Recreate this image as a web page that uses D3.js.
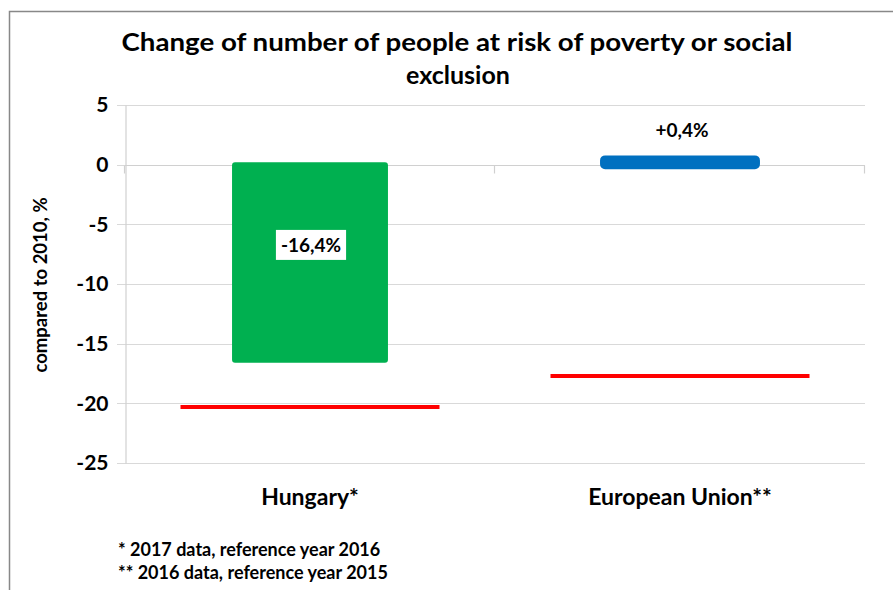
<!DOCTYPE html>
<html><head><meta charset="utf-8">
<script src="https://cdn.jsdelivr.net/npm/d3@7"></script>
<style>
html,body{margin:0;padding:0;background:#fff;}
svg{display:block;}
text{font-family:Lato,"Open Sans",sans-serif;font-weight:bold;fill:#000;}
</style></head>
<body>
<script>
const categories = ["Hungary*", "European Union**"];
const changeValues = [-16.4, 0.4];
const targetValues = [-20.3, -17.7];
const valueLabels = ["-16,4%", "+0,4%"];
const barColors = ["#00B050", "#0070C0"];
const yTicks = [5, 0, -5, -10, -15, -20, -25];
const titleLines = ["Change of number of people at risk of poverty or social", "exclusion"];
const yTitle = "compared to 2010, %";
const footnotes = ["* 2017 data, reference year 2016", "** 2016 data, reference year 2015"];

const W = 893, H = 590;
const svg = d3.select("body").append("svg").attr("width", W).attr("height", H);

// outer chart border
svg.append("path").attr("d", `M9.5,${H} V11.5 H${W}`).attr("fill","none").attr("stroke","#888").attr("stroke-width",1.5);

const plot = {left:125, right:865, top:105, bottom:463};
const y = d3.scaleLinear().domain([-25, 5]).range([plot.bottom, plot.top]);
const x = d3.scaleBand().domain(categories).range([plot.left, plot.right]).padding(0);
const barFrac = 0.416, lineFrac = 0.7;

// gridlines
svg.append("g").selectAll("line").data(yTicks).join("line")
  .attr("x1", plot.left - 8).attr("x2", plot.right)
  .attr("y1", d => Math.round(y(d)) + 0.5).attr("y2", d => Math.round(y(d)) + 0.5)
  .attr("stroke", "#d9d9d9").attr("stroke-width", 1.2);

// y axis
const yAxis = svg.append("g").attr("transform", `translate(${plot.left + 0.5},0)`)
  .call(d3.axisLeft(y).tickValues(yTicks).tickSize(0).tickPadding(17).tickFormat(d => String(d)));
yAxis.select(".domain").attr("stroke", "#d0d0d0").attr("stroke-width", 1.2);
yAxis.selectAll("text").attr("font-size", 21).attr("font-family", "Lato, sans-serif").attr("font-weight", "bold").attr("fill","#000");

// x axis at 0
const x0 = Math.round(y(0)) + 0.5;
svg.append("line").attr("x1", plot.left).attr("x2", plot.right).attr("y1", x0).attr("y2", x0)
  .attr("stroke", "#d0d0d0").attr("stroke-width", 1.2);
const tickXs = [plot.left, ...categories.map(c => x(c) + x.bandwidth())];
svg.append("g").selectAll("line").data(tickXs).join("line")
  .attr("x1", d => d - 0.5).attr("x2", d => d - 0.5).attr("y1", x0).attr("y2", x0 + 8)
  .attr("stroke", "#d0d0d0").attr("stroke-width", 1.2);

// bars
const bw = x.bandwidth() * barFrac;
svg.append("g").selectAll("rect").data(categories).join("rect")
  .attr("x", c => x(c) + (x.bandwidth() - bw) / 2)
  .attr("width", bw)
  .attr("y", (c, i) => Math.min(y(0), y(changeValues[i])) - 1.5)
  .attr("height", (c, i) => Math.abs(y(changeValues[i]) - y(0)) + 3)
  .attr("fill", (c, i) => barColors[i])
  .attr("stroke", (c, i) => barColors[i])
  .attr("stroke-width", (c, i) => i === 1 ? 6 : 2)
  .attr("stroke-linejoin", "round")
  .attr("rx", 2);

// target lines
const lw = x.bandwidth() * lineFrac;
svg.append("g").selectAll("line").data(categories).join("line")
  .attr("x1", c => x(c) + (x.bandwidth() - lw) / 2)
  .attr("x2", c => x(c) + (x.bandwidth() + lw) / 2)
  .attr("y1", (c, i) => y(targetValues[i]))
  .attr("y2", (c, i) => y(targetValues[i]))
  .attr("stroke", "#FF0000").attr("stroke-width", 4);

// value labels
const cx = c => x(c) + x.bandwidth() / 2;
{
  const c = categories[0];
  const ly = y(changeValues[0] * 0.41);
  const g = svg.append("g");
  const t = g.append("text").attr("x", cx(c) + 1).attr("y", ly).attr("text-anchor","middle")
    .attr("dominant-baseline","central").attr("font-size", 19).text(valueLabels[0]);
  const bb = t.node().getBBox();
  g.insert("rect", "text").attr("x", bb.x - 5).attr("y", ly - 15).attr("width", bb.width + 10).attr("height", 30).attr("fill", "#fff");
}
{
  const c = categories[1];
  svg.append("text").attr("x", cx(c) + 2).attr("y", y(changeValues[1]) - 23).attr("text-anchor","middle")
    .attr("font-size", 19).text(valueLabels[1]);
}

// category labels
svg.append("g").selectAll("text").data(categories).join("text")
  .attr("x", c => cx(c)).attr("y", 505).attr("text-anchor", "middle")
  .attr("font-size", 23).text(c => c);

// y axis title
svg.append("text").attr("transform", `translate(47,${285}) rotate(-90)`)
  .attr("text-anchor", "middle").attr("font-size", 18.5).text(yTitle);

// title
svg.append("text").attr("x", 457).attr("y", 51).attr("text-anchor","middle").attr("font-size", 25)
  .attr("textLength", 671).attr("lengthAdjust","spacingAndGlyphs").text(titleLines[0]);
svg.append("text").attr("x", 458).attr("y", 84).attr("text-anchor","middle").attr("font-size", 25)
  .text(titleLines[1]);

// footnotes
svg.append("g").selectAll("text").data(footnotes).join("text")
  .attr("x", 118).attr("y", (d, i) => 556 + i * 23).attr("font-size", 18).text(d => d);
</script>
</body></html>
